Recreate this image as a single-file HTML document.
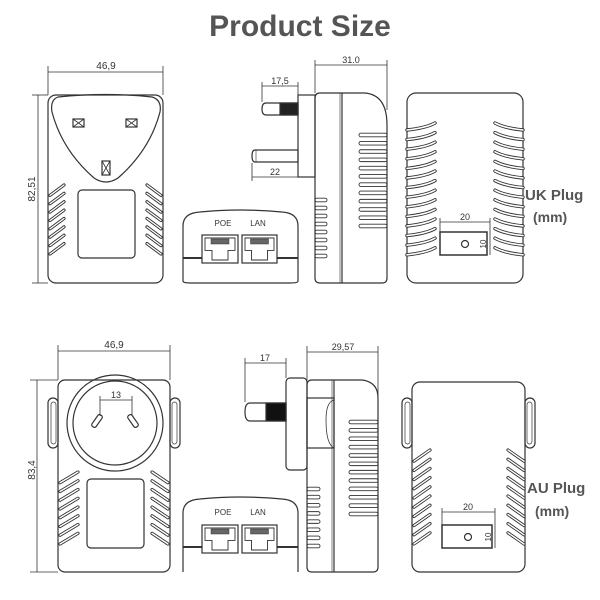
<!DOCTYPE html>
<html><head><meta charset="utf-8"><style>
body{margin:0;background:#fff;width:600px;height:600px;overflow:hidden}
svg{display:block}
text{font-family:"Liberation Sans",sans-serif;fill:#333}
</style></head><body>
<svg id="s" width="600" height="600" viewBox="0 0 600 600" fill="none" stroke="#333" stroke-width="1.2">
<text x="300" y="36" text-anchor="middle" font-size="30" font-weight="bold" fill="#555" stroke="none" style="fill:#555">Product Size</text>

<!-- UK front -->
<g>
<line x1="48" y1="66" x2="48" y2="95" stroke-width="0.8"/><line x1="163" y1="66" x2="163" y2="95" stroke-width="0.8"/>
<line x1="48" y1="72" x2="163" y2="72" stroke-width="0.8"/>
<text x="106" y="69" font-size="10" text-anchor="middle" stroke="none">46,9</text>
<line x1="32" y1="95" x2="48" y2="95" stroke-width="0.8"/><line x1="32" y1="283" x2="48" y2="283" stroke-width="0.8"/>
<line x1="38" y1="95" x2="38" y2="283" stroke-width="0.8"/>
<text x="0" y="0" font-size="10" text-anchor="middle" stroke="none" transform="translate(35,189) rotate(-90)">82,51</text>
<rect x="48" y="95" width="115" height="188" rx="8"/>
<path d="M58,97 Q106,92 152,97 Q162,100 160,112 Q150,150 118,178 Q106,186 94,178 Q62,150 52,112 Q50,100 58,97Z"/>
<rect x="73" y="119" width="11" height="8"/><path d="M73,119L84,127M84,119L73,127" stroke-width="0.8"/>
<rect x="126" y="119" width="11" height="8"/><path d="M126,119L137,127M137,119L126,127" stroke-width="0.8"/>
<rect x="102" y="161" width="8" height="14"/><path d="M102,161L110,175M110,161L102,175" stroke-width="0.8"/>
<rect x="78" y="190" width="57" height="68" rx="4"/>
</g>
<g id="ukvl"></g>

<!-- UK POE -->
<path d="M183,283 L183,228 Q183,215 200,214 Q240,210 282,214 Q298,215 298,228 L298,283 Q298,285 290,285 L190,285 Q183,285 183,283Z" transform="translate(0,-2)"/>
<line x1="183" y1="258" x2="202" y2="258" stroke-width="2"/><line x1="277" y1="258" x2="298" y2="258" stroke-width="2"/>
<text x="223" y="226" font-size="8" text-anchor="middle" stroke="none">POE</text>
<text x="258" y="226" font-size="8" text-anchor="middle" stroke="none">LAN</text>
<g id="ukports"></g>

<!-- UK side -->
<line x1="315" y1="60" x2="315" y2="93" stroke-width="0.8"/><line x1="387" y1="60" x2="387" y2="110" stroke-width="0.8"/>
<line x1="315" y1="65" x2="387" y2="65" stroke-width="0.8"/>
<text x="351" y="63" font-size="9" text-anchor="middle" stroke="none">31.0</text>
<path d="M320,93 L365,93 Q387,95 387,125 L387,278 Q387,283 382,283 L320,283 Q315,283 315,278 L315,98 Q315,93 320,93Z"/>
<line x1="342" y1="93" x2="342" y2="283"/><line x1="340" y1="93" x2="340" y2="283" stroke-width="0.6"/>
<rect x="298" y="95" width="17" height="82"/>
<path d="M266,103 L298,103 L298,115 L266,115 Q262,115 262,109 Q262,103 266,103Z"/>
<rect x="280" y="103" width="18" height="12" fill="#222"/>
<path d="M255,150 L298,150 L298,162 L255,162 Q252,162 252,156 Q252,150 255,150Z"/><line x1="256" y1="150" x2="256" y2="162" stroke-width="0.6"/>
<line x1="262" y1="82" x2="262" y2="102" stroke-width="0.8"/><line x1="298" y1="82" x2="298" y2="95" stroke-width="0.8"/>
<line x1="262" y1="86" x2="298" y2="86" stroke-width="0.8"/>
<text x="280" y="84" font-size="9" text-anchor="middle" stroke="none">17,5</text>
<line x1="252" y1="163" x2="252" y2="181" stroke-width="0.8"/>
<line x1="252" y1="177" x2="298" y2="177" stroke-width="0.8"/>
<text x="275" y="175" font-size="9" text-anchor="middle" stroke="none">22</text>
<g id="uksv"></g>

<!-- UK back -->
<rect x="407" y="93" width="116" height="190" rx="9"/>
<g id="ukbv"></g>
<line x1="440" y1="218" x2="440" y2="232" stroke-width="0.8"/><line x1="490" y1="218" x2="490" y2="232" stroke-width="0.8"/>
<line x1="440" y1="222" x2="490" y2="222" stroke-width="0.8"/>
<text x="465" y="220" font-size="9" text-anchor="middle" stroke="none">20</text>
<rect x="440" y="232" width="47" height="23" stroke-width="1.5"/><line x1="490" y1="232" x2="490" y2="255" stroke-width="0.8"/>
<circle cx="465" cy="244" r="3.5"/>
<text x="0" y="0" font-size="8" text-anchor="middle" stroke="none" transform="translate(486,244) rotate(-90)">10</text>
<text x="525" y="200" font-size="15" font-weight="bold" stroke="none" style="fill:#555">UK Plug</text>
<text x="533" y="222" font-size="14" font-weight="bold" stroke="none" style="fill:#555">(mm)</text>

<!-- AU front -->
<line x1="58" y1="345" x2="58" y2="380" stroke-width="0.8"/><line x1="170" y1="345" x2="170" y2="380" stroke-width="0.8"/>
<line x1="58" y1="351" x2="170" y2="351" stroke-width="0.8"/>
<text x="114" y="348" font-size="10" text-anchor="middle" stroke="none">46,9</text>
<line x1="30" y1="380" x2="58" y2="380" stroke-width="0.8"/><line x1="30" y1="572" x2="58" y2="572" stroke-width="0.8"/>
<line x1="37" y1="380" x2="37" y2="572" stroke-width="0.8"/>
<text x="0" y="0" font-size="10" text-anchor="middle" stroke="none" transform="translate(35,470) rotate(-90)">83,4</text>
<rect x="58" y="380" width="112" height="192" rx="7"/>
<rect x="48" y="398" width="10" height="50" rx="5"/><rect x="51" y="402" width="5" height="42" rx="2.5" stroke-width="0.7"/>
<rect x="170" y="398" width="10" height="50" rx="5"/><rect x="172" y="402" width="5" height="42" rx="2.5" stroke-width="0.7"/>
<circle cx="115" cy="423" r="48"/><circle cx="115" cy="423" r="42"/>
<line x1="100" y1="396" x2="100" y2="416" stroke-width="0.8"/><line x1="132" y1="396" x2="132" y2="416" stroke-width="0.8"/>
<line x1="100" y1="400" x2="132" y2="400" stroke-width="0.8"/>
<text x="116" y="398" font-size="9" text-anchor="middle" stroke="none">13</text>
<rect x="-2.5" y="-7" width="5" height="14" rx="2" transform="translate(97,421) rotate(35)"/>
<rect x="-2.5" y="-7" width="5" height="14" rx="2" transform="translate(133,421) rotate(-35)"/>
<rect x="87" y="479" width="57" height="69" rx="4"/>
<g id="auvl"></g>

<!-- AU POE -->
<path d="M183,572 L183,513 Q183,500 200,499 Q240,495 282,499 Q298,500 298,513 L298,572"/>
<line x1="183" y1="547" x2="202" y2="547" stroke-width="2"/><line x1="277" y1="547" x2="298" y2="547" stroke-width="2"/>
<text x="223" y="515" font-size="8" text-anchor="middle" stroke="none">POE</text>
<text x="258" y="515" font-size="8" text-anchor="middle" stroke="none">LAN</text>
<g id="auports"></g>

<!-- AU side -->
<line x1="307" y1="346" x2="307" y2="380" stroke-width="0.8"/><line x1="378" y1="346" x2="378" y2="400" stroke-width="0.8"/>
<line x1="307" y1="352" x2="378" y2="352" stroke-width="0.8"/>
<text x="343" y="350" font-size="9" text-anchor="middle" stroke="none">29,57</text>
<path d="M312,380 L362,380 Q378,382 378,398 L378,567 Q378,572 373,572 L312,572 Q307,572 307,567 L307,385 Q307,380 312,380Z"/>
<line x1="334" y1="380" x2="334" y2="572"/><line x1="332" y1="380" x2="332" y2="572" stroke-width="0.6"/>
<rect x="286" y="378" width="21" height="92" rx="4"/>
<rect x="307" y="398" width="27" height="50"/>
<path d="M334,400 Q326,402 326,420 Q326,444 334,448" stroke-width="0.8"/>
<path d="M250,403 L286,403 L286,421 L250,421 Q245,421 245,412 Q245,403 250,403Z"/>
<rect x="266" y="403" width="20" height="18" fill="#111"/>
<line x1="245" y1="358" x2="245" y2="402" stroke-width="0.8"/><line x1="286" y1="358" x2="286" y2="378" stroke-width="0.8"/>
<line x1="245" y1="363" x2="286" y2="363" stroke-width="0.8"/>
<text x="265" y="361" font-size="9" text-anchor="middle" stroke="none">17</text>
<g id="ausv"></g>

<!-- AU back -->
<rect x="412" y="382" width="113" height="190" rx="8"/>
<rect x="402" y="398" width="10" height="50" rx="5"/><rect x="405" y="402" width="5" height="42" rx="2.5" stroke-width="0.7"/>
<rect x="525" y="398" width="10" height="50" rx="5"/><rect x="527" y="402" width="5" height="42" rx="2.5" stroke-width="0.7"/>
<g id="aubv"></g>
<line x1="442" y1="508" x2="442" y2="525" stroke-width="0.8"/><line x1="495" y1="508" x2="495" y2="525" stroke-width="0.8"/>
<line x1="442" y1="512" x2="495" y2="512" stroke-width="0.8"/>
<text x="468" y="510" font-size="9" text-anchor="middle" stroke="none">20</text>
<rect x="442" y="525" width="50" height="23" stroke-width="1.5"/><line x1="495" y1="525" x2="495" y2="548" stroke-width="0.8"/>
<circle cx="468" cy="537" r="3.5"/>
<text x="0" y="0" font-size="8" text-anchor="middle" stroke="none" transform="translate(491,537) rotate(-90)">10</text>
<text x="527" y="493" font-size="15" font-weight="bold" stroke="none" style="fill:#555">AU Plug</text>
<text x="535" y="516" font-size="14" font-weight="bold" stroke="none" style="fill:#555">(mm)</text>
</svg>
<script>
var NS="http://www.w3.org/2000/svg";
function add(id,tag,attrs){var e=document.createElementNS(NS,tag);for(var k in attrs)e.setAttribute(k,attrs[k]);document.getElementById(id).appendChild(e);}
// diagonal vents (double-line slashes)
function diag(id,x0,x1,y0,y1,n,dir){var step=(y1-y0)/n;for(var i=0;i<n;i++){var y=y0+i*step;
 var d=dir>0?"M"+x0+","+(y+step+4)+" L"+x1+","+(y+2):"M"+x0+","+(y+2)+" L"+x1+","+(y+step+4);
 add(id,"path",{d:d,"stroke-width":"3.2","stroke-linecap":"round"});
 add(id,"path",{d:d,"stroke-width":"1.4","stroke-linecap":"round",stroke:"#fff"});}}
diag("ukvl",50,64,183,250,8,1);diag("ukvl",147,161,183,250,8,-1);
diag("auvl",60,78,470,540,8,1);diag("auvl",152,168,470,540,8,-1);
diag("aubv",414,430,448,540,10,1);diag("aubv",508,524,448,540,10,-1);
// horizontal slats
function slats(id,x0,x1,y0,y1,n){var step=(y1-y0)/(n-1);for(var i=0;i<n;i++){var y=y0+i*step;
 add(id,"rect",{x:x0,y:y-1.8,width:x1-x0,height:3.6,rx:1.8,"stroke-width":"0.9"});}}
slats("uksv",359,387,135,226,12);slats("uksv",315,327,200,256,8);
slats("ausv",349,378,422,514,12);slats("ausv",307,320,489,546,8);
// curved vents on UK back
for(var i=0;i<14;i++){var y=126+i*9.6;
 add("ukbv","path",{d:"M407,"+(y+4)+" Q426,"+(y+2)+" 435,"+(y-3),"stroke-width":"3.4","stroke-linecap":"round"});
 add("ukbv","path",{d:"M407,"+(y+4)+" Q426,"+(y+2)+" 435,"+(y-3),"stroke-width":"1.6",stroke:"#fff","stroke-linecap":"round"});
 add("ukbv","path",{d:"M523,"+(y+4)+" Q504,"+(y+2)+" 495,"+(y-3),"stroke-width":"3.4","stroke-linecap":"round"});
 add("ukbv","path",{d:"M523,"+(y+4)+" Q504,"+(y+2)+" 495,"+(y-3),"stroke-width":"1.6",stroke:"#fff","stroke-linecap":"round"});}
// ports
function port(id,x,y,w,h){add(id,"rect",{x:x,y:y,width:w,height:h,fill:"#fff"});
 var m=x+w/2;add(id,"path",{d:"M"+(x+3)+","+(y+3)+" L"+(x+w-3)+","+(y+3)+" L"+(x+w-3)+","+(y+h*0.55)+" L"+(m+8)+","+(y+h*0.55)+" L"+(m+8)+","+(y+h-3)+" L"+(m-8)+","+(y+h-3)+" L"+(m-8)+","+(y+h*0.55)+" L"+(x+3)+","+(y+h*0.55)+"Z","stroke-width":"0.9"});
 add(id,"rect",{x:m-9,y:y+4,width:18,height:5,fill:"#666","stroke-width":"0.5"});}
port("ukports",202,235,36,28);port("ukports",242,235,35,28);
port("auports",202,525,36,28);port("auports",242,525,35,28);
</script>
</body></html>
